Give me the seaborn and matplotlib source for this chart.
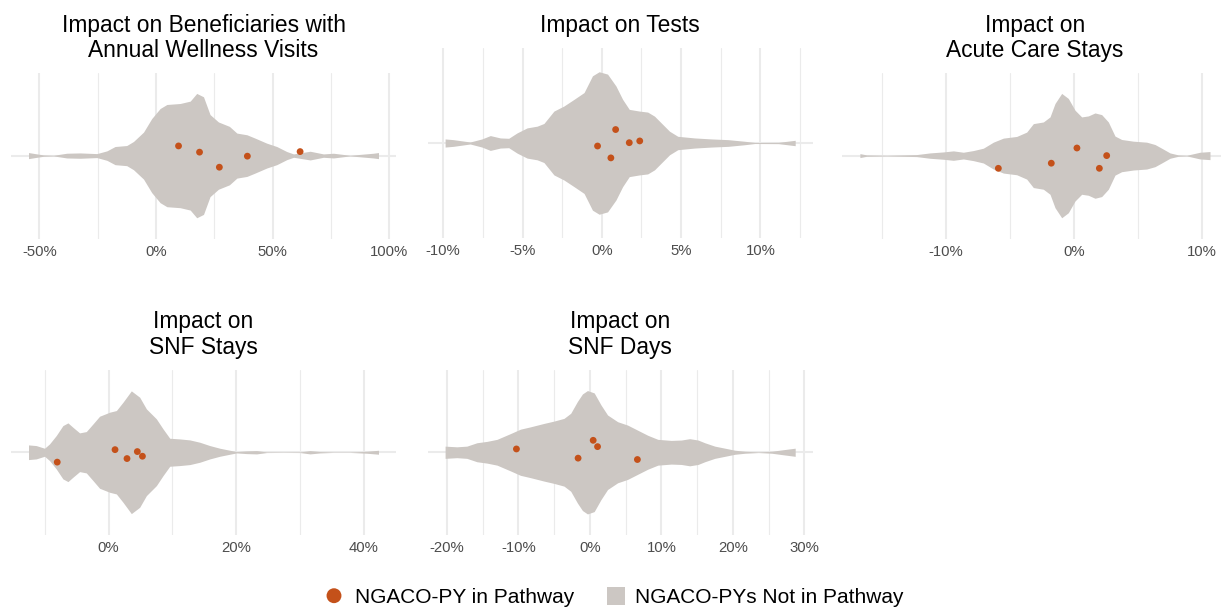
import matplotlib
matplotlib.use("Agg")
import matplotlib.pyplot as plt
import numpy as np
import pandas as pd
import seaborn as sns
from matplotlib.ticker import FixedLocator, FuncFormatter
from matplotlib.patches import Rectangle

# ---------------------------------------------------------------------------
# Data: density profiles of the NGACO-PYs not in the pathway (impact in %,
# relative density) and the NGACO-PYs in the pathway (impact in %, jitter).
# ---------------------------------------------------------------------------
titles = [
    ["Impact on Beneficiaries with", "Annual Wellness Visits"],
    ["Impact on Tests"],
    ["Impact on", "Acute Care Stays"],
    ["Impact on", "SNF Stays"],
    ["Impact on", "SNF Days"],
]

awv_grid = [-54.7, -51.9, -48.3, -44.0, -38.3, -32.6, -25.4, -21.1, -17.6, -12.6,
            -9.7, -5.4, -1.9, 1.7, 4.6, 10.3, 14.6, 17.4, 20.3, 23.1, 26.7, 31.4,
            34.6, 38.9, 42.4, 47.4, 51.7, 56.0, 58.9, 66.0, 71.7, 76.0, 83.1, 93.1, 95.3]
awv_dens = [0.049, 0.032, 0.011, 0.005, 0.038, 0.043, 0.032, 0.076, 0.146, 0.162,
            0.227, 0.378, 0.595, 0.757, 0.822, 0.838, 0.876, 1.000, 0.946, 0.660, 0.541, 0.470,
            0.362, 0.335, 0.281, 0.200, 0.146, 0.065, 0.027, 0.070, 0.027, 0.038, 0.005, 0.038, 0.049]
awv_pts = [9.6, 18.6, 27.1, 39.1, 61.7]
awv_jit = [0.070, 0.025, -0.084, -0.004, 0.029]

tests_grid = [-9.88, -9.36, -8.30, -7.56, -7.03, -6.40, -5.87, -5.34, -4.71, -4.08,
              -3.65, -3.02, -2.39, -1.75, -1.12, -0.59, -0.17, 0.36, 0.89, 1.31, 1.73,
              2.37, 2.89, 3.32, 3.74, 4.27, 4.79, 5.85, 6.91, 7.96, 9.02, 9.65, 11.13, 12.19]
tests_dens = [0.057, 0.047, 0.014, 0.057, 0.104, 0.071, 0.066, 0.142, 0.212, 0.236,
              0.274, 0.448, 0.519, 0.613, 0.708, 0.943, 1.000, 0.967, 0.800, 0.613, 0.472,
              0.448, 0.434, 0.377, 0.283, 0.165, 0.094, 0.071, 0.057, 0.047, 0.024, 0.007, 0.009, 0.038]
tests_pts = [-0.27, 0.57, 0.87, 1.73, 2.39]
tests_jit = [-0.019, -0.094, 0.085, 0.002, 0.013]

acute_grid = [-16.70, -16.18, -14.62, -12.28, -11.24, -10.19, -9.41, -8.63, -7.85, -7.07,
              -6.29, -5.51, -4.47, -3.69, -3.17, -2.39, -1.87, -1.48, -0.96, -0.44, 0.08,
              0.60, 1.12, 1.64, 2.16, 2.68, 3.20, 3.72, 4.63, 5.67, 6.32, 6.84, 7.49, 8.14,
              8.79, 9.83, 10.61]
acute_dens = [0.032, 0.011, 0.005, 0.016, 0.043, 0.059, 0.076, 0.054, 0.081, 0.119,
              0.216, 0.281, 0.308, 0.378, 0.514, 0.541, 0.622, 0.838, 1.000, 0.919, 0.730,
              0.622, 0.638, 0.686, 0.659, 0.541, 0.314, 0.259, 0.232, 0.216, 0.178, 0.119, 0.043, 0.011,
              0.005, 0.054, 0.065]
acute_pts = [-5.90, -1.77, 0.23, 1.98, 2.55]
acute_jit = [-0.092, -0.055, 0.055, -0.092, 0.0]

snfs_grid = [-12.58, -11.37, -10.06, -9.28, -8.23, -7.18, -6.39, -5.61, -4.56, -3.51,
             -2.46, -1.42, 0.16, 1.21, 2.25, 3.56, 4.87, 5.92, 7.49, 8.54, 9.59, 11.16,
             12.74, 14.31, 15.88, 17.45, 19.03, 20.07, 21.65, 23.22, 24.79, 27.41, 30.03,
             31.60, 33.18, 35.27, 37.89, 40.51, 42.35]
snfs_dens = [0.119, 0.108, 0.065, 0.135, 0.270, 0.432, 0.476, 0.405, 0.314, 0.335,
             0.459, 0.584, 0.649, 0.676, 0.811, 0.995, 0.892, 0.703, 0.541, 0.378, 0.227, 0.216,
             0.200, 0.162, 0.108, 0.065, 0.032, 0.011, 0.022, 0.027, 0.005, 0.003, 0.005,
             0.027, 0.011, 0.003, 0.003, 0.016, 0.032]
snfs_pts = [-8.07, 1.00, 2.88, 4.50, 5.30]
snfs_jit = [-0.072, 0.019, -0.046, 0.005, -0.029]

snfd_grid = [-20.23, -18.59, -17.19, -15.78, -14.38, -12.97, -11.10, -9.70, -8.29, -6.42,
             -5.01, -3.61, -2.67, -1.73, -1.03, -0.33, 0.61, 1.55, 2.48, 3.89, 5.29, 6.70,
             8.10, 9.51, 11.38, 12.79, 13.96, 15.13, 16.07, 17.47, 18.88, 20.28, 21.69,
             23.56, 25.43, 26.84, 28.71]
snfd_dens = [0.099, 0.088, 0.099, 0.154, 0.176, 0.209, 0.302, 0.374, 0.412, 0.467,
             0.505, 0.549, 0.632, 0.824, 0.945, 1.000, 0.962, 0.769, 0.604, 0.495, 0.440, 0.357,
             0.275, 0.209, 0.192, 0.198, 0.220, 0.198, 0.154, 0.099, 0.066, 0.033, 0.016,
             0.005, 0.016, 0.038, 0.066]
snfd_pts = [-10.26, -1.64, 0.47, 1.08, 6.65]
snfd_jit = [0.024, -0.043, 0.087, 0.041, -0.053]

major_ticks = [[-50, 0, 50, 100], [-10, -5, 0, 5, 10], [-10, 0, 10], [0, 20, 40],
               [-20, -10, 0, 10, 20, 30]]
minor_ticks = [[-25, 25, 75], [-7.5, -2.5, 2.5, 7.5, 12.5], [-15, -5, 5], [-10, 10, 30],
               [-15, -5, 5, 15, 25]]

legend_labels = ["NGACO-PY in Pathway", "NGACO-PYs Not in Pathway"]

# violin max peak scale (half width on a discrete axis of one level) and colours
VIOLIN_HALF = 0.75 * 0.6
GREY = "#CCC7C3"
ORANGE = "#C4511A"
GRID = "#EBEBEB"
TICK_TXT = "#4D4D4D"

sns.set_theme(style="white")
plt.rcParams["font.family"] = ["Liberation Sans", "DejaVu Sans"]

W, H = 1221, 607
fig = plt.figure(figsize=(W / 100, H / 100), dpi=100)


def px_rect(x0, x1, y0, y1):
    return [x0 / W, 1 - y1 / H, (x1 - x0) / W, (y1 - y0) / H]


# panel boxes in pixels: (left, right, top, bottom)
cols = [(11.0, 396.0), (427.6, 812.7), (842.4, 1227.5)]
boxes = [
    (cols[0], (72.7, 238.5)),
    (cols[1], (48.0, 238.0)),
    (cols[2], (72.7, 238.5)),
    (cols[0], (370.0, 534.5)),
    (cols[1], (370.0, 534.5)),
]
title_baselines = [[31.7, 56.7], [32.3], [31.7, 56.7], [328.3, 353.8], [328.3, 353.8]]

profiles = [
    (awv_grid, awv_dens, awv_pts, awv_jit),
    (tests_grid, tests_dens, tests_pts, tests_jit),
    (acute_grid, acute_dens, acute_pts, acute_jit),
    (snfs_grid, snfs_dens, snfs_pts, snfs_jit),
    (snfd_grid, snfd_dens, snfd_pts, snfd_jit),
]

pct = FuncFormatter(lambda v, _: f"{v:g}%")

for i, (grid, dens, pts, jit) in enumerate(profiles):
    (x0, x1), (y0, y1) = boxes[i]
    ax = fig.add_axes(px_rect(x0, x1, y0, y1))
    ax.set_facecolor("white")
    for s in ax.spines.values():
        s.set_visible(False)

    g = np.asarray(grid)
    d = np.asarray(dens) * VIOLIN_HALF
    span = g.max() - g.min()
    ax.set_xlim(g.min() - 0.05 * span, g.max() + 0.05 * span)
    ax.set_ylim(-0.6, 0.6)

    ax.xaxis.set_major_locator(FixedLocator(major_ticks[i]))
    ax.xaxis.set_minor_locator(FixedLocator(minor_ticks[i]))
    ax.xaxis.set_major_formatter(pct)
    ax.set_yticks([0])
    ax.set_yticklabels([])
    ax.grid(which="major", axis="both", color=GRID, linewidth=1.5)
    ax.grid(which="minor", axis="x", color=GRID, linewidth=0.8)
    ax.set_axisbelow(True)
    ax.tick_params(axis="x", which="both", length=0, pad=4.5, labelsize=10.7,
                   labelcolor=TICK_TXT)
    ax.tick_params(axis="y", length=0)

    ax.fill_between(g, -d, d, color=GREY, linewidth=0, zorder=2)

    df = pd.DataFrame({"impact": pts, "jitter": jit})
    sns.scatterplot(data=df, x="impact", y="jitter", ax=ax, color=ORANGE, s=24,
                    edgecolor="none", zorder=3, legend=False)
    ax.set_xlabel("")
    ax.set_ylabel("")

    xc = (x0 + x1) / 2
    for line, yb in zip(titles[i], title_baselines[i]):
        fig.text(xc / W, 1 - yb / H, line, ha="center", va="baseline",
                 fontsize=16.4, color="black")

# legend along the bottom
lax = fig.add_axes([0, 0, 1, 1])
lax.set_xlim(0, W)
lax.set_ylim(H, 0)
lax.axis("off")
lax.scatter([334], [595.7], s=115, color=ORANGE, edgecolor="none")
lax.text(355, 602.8, legend_labels[0], fontsize=15, va="baseline", ha="left",
         color="black")
lax.add_patch(Rectangle((607, 587), 18, 18, facecolor=GREY, edgecolor="none"))
lax.text(635, 602.8, legend_labels[1], fontsize=15, va="baseline", ha="left",
         color="black")

fig.savefig("out.png", dpi=100, facecolor="white")
